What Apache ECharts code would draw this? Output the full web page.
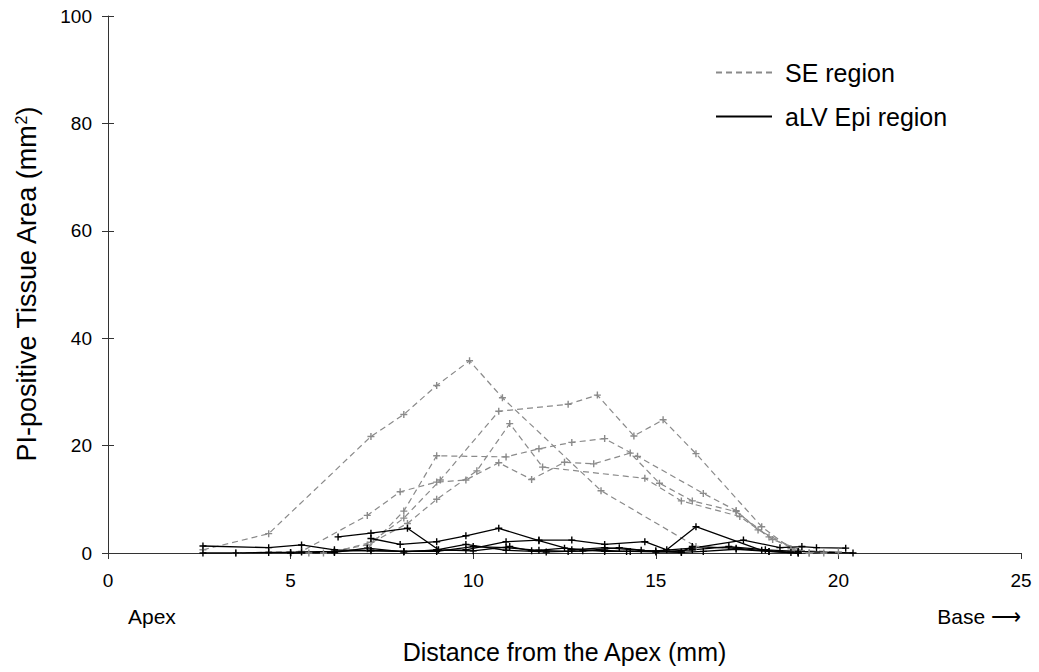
<!DOCTYPE html>
<html>
<head>
<meta charset="utf-8">
<script src="https://cdn.jsdelivr.net/npm/echarts@6/dist/echarts.min.js"></script>
<style>
  html, body { margin: 0; padding: 0; background: #fff; }
  #chart { width: 1039px; height: 672px; }
</style>
</head>
<body>
<div id="chart"></div>
<script>
// SE region traces (dashed grey)
var se1 = [[2.6,0.6],[4.4,3.6],[7.2,21.7],[8.1,25.8],[9.0,31.2],[9.9,35.8],[10.8,28.9],[13.5,11.6],[16.1,1.2],[18.9,0.2]];
var se2 = [[6.2,0.2],[7.2,2],[8.1,6.5],[9.1,13.6],[10.7,26.4],[12.6,27.7],[13.4,29.4],[14.4,21.8],[15.2,24.8],[16.1,18.5],[17.9,4.9],[18.7,0.8],[19.2,0]];
var se3 = [[5.9,0],[7.1,1.5],[8.2,5.5],[9.0,10],[10.1,15.3],[11.0,24.1],[11.9,16.0],[14.7,13.9],[15.7,9.7],[17.3,6.8],[18.1,3.0],[18.9,0.3],[19.6,0]];
var se4 = [[5.5,0],[7.1,0.8],[8.1,7.8],[9.0,18.1],[10.9,17.9],[11.8,19.4],[12.7,20.6],[13.6,21.3],[14.5,18.0],[16.3,11.1],[17.2,7.9],[17.8,4.3],[18.9,0.5],[20.0,0.2]];
var se5 = [[3.5,0],[5.3,0.3],[7.1,7.0],[8.0,11.4],[9.0,13.2],[9.8,13.6],[10.7,16.8],[11.6,13.7],[12.5,16.9],[13.3,16.6],[14.3,18.6],[15.1,13.0],[16.0,9.7],[17.2,7.7],[18.2,2.5],[19.2,0]];

// aLV Epi region traces (solid black)
var ep1 = [[2.6,1.3],[4.4,1.0],[5.3,1.5],[6.2,0.6],[7.2,0.4],[8.1,0.3],[9.0,0.5],[9.8,0.6],[10.9,2.1],[11.8,2.4],[12.7,2.4],[13.6,1.6],[14.7,2.1],[15.3,0.6],[16.1,4.9],[17.9,0.5],[18.7,0.1]];
var ep2 = [[6.3,3.0],[7.2,3.7],[8.2,4.6],[9.05,0.6],[10.0,0.4],[11.0,1.2],[11.6,0.4],[12.5,0.9],[13.6,0.3],[14.3,0.3],[15.7,0.1],[16.3,0.3],[17.2,0.7],[18.1,0.3],[18.9,0]];
var ep3 = [[7.2,2.7],[8.0,1.6],[9.0,2.1],[9.8,3.2],[10.7,4.6],[11.8,2.3],[12.7,0.6],[13.6,1.0],[14.6,0.5],[15.7,0.2],[16.0,1.2],[17.2,0.9],[18.1,0.3],[18.9,0]];
var ep4 = [[2.6,0],[3.5,0],[4.4,0.1],[5.0,0.1],[5.3,0.2],[6.2,0.3],[7.2,0.5],[8.1,0.3],[9.0,0.3],[10.0,1.2],[10.9,1.0],[11.8,0.5],[12.6,0.3],[13.6,0.5],[14.2,0.3],[15.0,0.4],[16.0,0.9],[17.4,2.4],[18.4,1.0],[19.0,1.2],[19.4,1.0],[20.2,0.9]];
var ep5 = [[5.0,0],[6.2,0.1],[7.1,0.9],[8.1,0.2],[9.0,0.6],[9.8,1.6],[10.9,0.5],[12.0,0.2],[13.0,0.4],[14.0,1.0],[15.0,0.2],[16.0,0.6],[17.0,1.2],[18.0,0.6],[18.9,0.3],[20.4,0]];

var seTraces = [se1, se2, se3, se4, se5];
var epTraces = [ep1, ep2, ep3, ep4, ep5];

var font = 'Liberation Sans, Arial, sans-serif';
var grey = '#8a8a8a';
var plus = 'path://M4,0 H6 V4 H10 V6 H6 V10 H4 V6 H0 V4 H4 Z';

function makeSeries(name, data, color, dashed) {
  return {
    name: name,
    type: 'line',
    data: data,
    symbol: plus,
    symbolSize: 7,
    showSymbol: true,
    itemStyle: { color: color },
    lineStyle: { color: color, width: dashed ? 1.2 : 1.3, type: dashed ? [6, 4] : 'solid' },
    emphasis: { disabled: true }
  };
}

var series = [];
seTraces.forEach(function(d) { series.push(makeSeries('SE region', d, grey, true)); });
epTraces.forEach(function(d) { series.push(makeSeries('aLV Epi region', d, '#000', false)); });

var chart = echarts.init(document.getElementById('chart'), null, { renderer: 'svg' });
chart.setOption({
  animation: false,
  grid: { left: 108, right: 18, top: 16, bottom: 119 },
  legend: {
    data: ['SE region', 'aLV Epi region'],
    orient: 'vertical',
    left: 710,
    top: 55,
    itemWidth: 56,
    itemHeight: 14,
    itemGap: 19,
    itemStyle: { opacity: 0 },
    textStyle: { fontFamily: font, fontSize: 25, color: '#000', padding: [0, 0, 0, 8] }
  },
  xAxis: {
    type: 'value',
    min: 0,
    max: 25,
    interval: 5,
    axisLine: { lineStyle: { color: '#333', width: 1 } },
    axisTick: { length: 6, lineStyle: { color: '#333' } },
    axisLabel: { color: '#000', fontFamily: font, fontSize: 19, margin: 18 },
    splitLine: { show: false },
    name: 'Distance from the Apex (mm)',
    nameLocation: 'middle',
    nameGap: 86,
    nameTextStyle: { color: '#000', fontFamily: font, fontSize: 25 }
  },
  yAxis: [{
    type: 'value',
    min: 0,
    max: 100,
    interval: 20,
    axisLine: { show: true, lineStyle: { color: '#333', width: 1 } },
    axisTick: { show: true, length: 6, lineStyle: { color: '#333' } },
    axisLabel: { color: '#000', fontFamily: font, fontSize: 19, margin: 16 },
    splitLine: { show: false },
    name: 'PI-positive Tissue Area (mm{sup|2})',
    nameLocation: 'middle',
    nameGap: 68,
    nameTextStyle: {
      color: '#000', fontFamily: font, fontSize: 27,
      rich: { sup: { fontFamily: font, fontSize: 16, verticalAlign: 'top', padding: [0, 0, 10, 0] } }
    }
  }, {
    type: 'value',
    position: 'left',
    min: 0,
    max: 100,
    interval: 20,
    axisLine: { show: false },
    axisTick: { show: true, inside: true, length: 6, lineStyle: { color: '#333' } },
    axisLabel: { show: false },
    splitLine: { show: false }
  }],
  graphic: [
    { type: 'text', left: 128, top: 606, style: { text: 'Apex', font: '21px ' + font, fill: '#000' } },
    { type: 'text', right: 18, top: 606, style: { text: 'Base ⟶', font: '21px ' + font, fill: '#000' } }
  ],
  series: series
});
window.addEventListener('resize', function() { chart.resize(); });
</script>
</body>
</html>
